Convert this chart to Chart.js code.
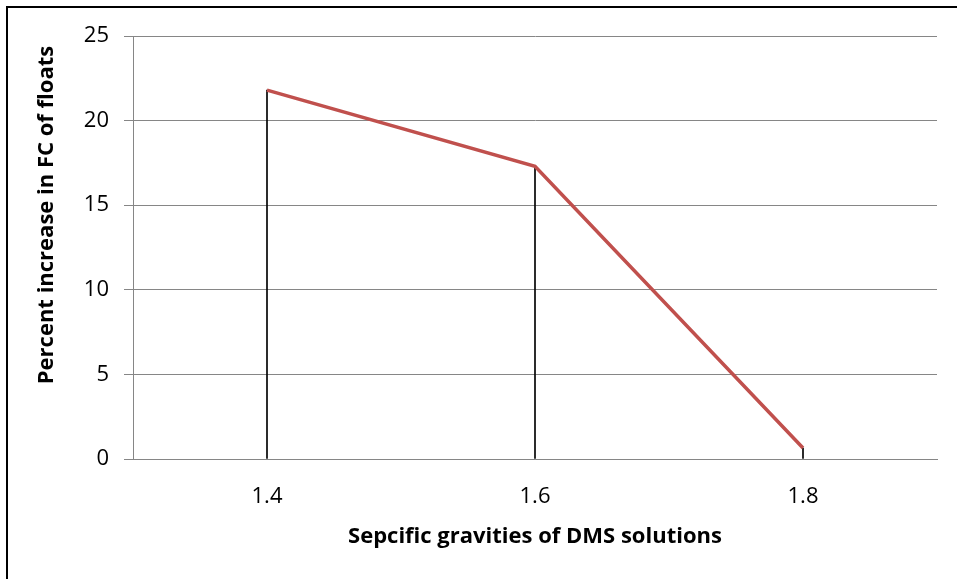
<!DOCTYPE html>
<html>
<head>
<meta charset="utf-8">
<script src="https://cdn.jsdelivr.net/npm/chart.js@4"></script>
<style>
  html, body { margin: 0; padding: 0; background: #fff; overflow: hidden; }
  #frame { position: absolute; left: 6px; top: 6px; width: 1200px; height: 900px; border: 2px solid #000; }
  #c { position: absolute; left: 0; top: 0; }
</style>
</head>
<body>
<div id="frame"></div>
<canvas id="c" width="957" height="579"></canvas>
<script>
const gravities = ['1.4', '1.6', '1.8'];
const fcIncrease = [21.8, 17.3, 0.65];
const yTicks = [0, 5, 10, 15, 20, 25];
const xTitle = 'Sepcific gravities of DMS solutions';
const yTitle = 'Percent increase in FC of floats';

const FONT = '"Open Sans", "Liberation Sans", sans-serif';

// y axis title, drawn where Excel puts it (not centred on the plot)
const yTitlePlugin = {
  id: 'yTitle',
  afterDraw(chart) {
    const ctx = chart.ctx;
    ctx.save();
    ctx.translate(47, 215);
    ctx.rotate(-Math.PI / 2);
    ctx.font = `bold 22px ${FONT}`;
    ctx.fillStyle = '#000';
    ctx.textAlign = 'center';
    ctx.textBaseline = 'middle';
    ctx.fillText(yTitle, 0, 0);
    ctx.restore();
  }
};

new Chart(document.getElementById('c'), {
  type: 'line',
  data: {
    labels: gravities,
    datasets: [
      {
        type: 'line',
        data: fcIncrease,
        borderColor: '#C0504D',
        borderWidth: 3.5,
        pointRadius: 0,
        tension: 0,
        order: 0
      },
      {
        // thin drop lines from each point down to the axis
        type: 'bar',
        data: fcIncrease,
        backgroundColor: '#000',
        barThickness: 1,
        order: 1
      }
    ]
  },
  options: {
    responsive: false,
    devicePixelRatio: 1,
    animation: false,
    layout: { padding: { top: 36, right: 20, left: 0, bottom: 0 } },
    plugins: { legend: { display: false }, tooltip: { enabled: false } },
    scales: {
      x: {
        offset: true,
        grid: { display: false, drawTicks: false },
        border: { display: true, color: '#868686', width: 1 },
        ticks: { color: '#000', font: { family: FONT, size: 22 }, padding: 25 },
        title: {
          display: true, text: xTitle, color: '#000',
          font: { family: FONT, size: 22, weight: 'bold' },
          padding: { top: 0, bottom: 29 }
        },
        afterFit(s) { s.height = 120; }
      },
      y: {
        min: 0, max: 25,
        afterBuildTicks(s) { s.ticks = yTicks.map(v => ({ value: v })); },
        grid: { color: '#868686', lineWidth: 1, tickLength: 9 },
        border: { display: true, color: '#868686', width: 1 },
        ticks: { color: '#000', font: { family: FONT, size: 22 }, padding: 15 },
        afterFit(s) { s.width = 133; }
      }
    }
  },
  plugins: [yTitlePlugin]
});
</script>
</body>
</html>
